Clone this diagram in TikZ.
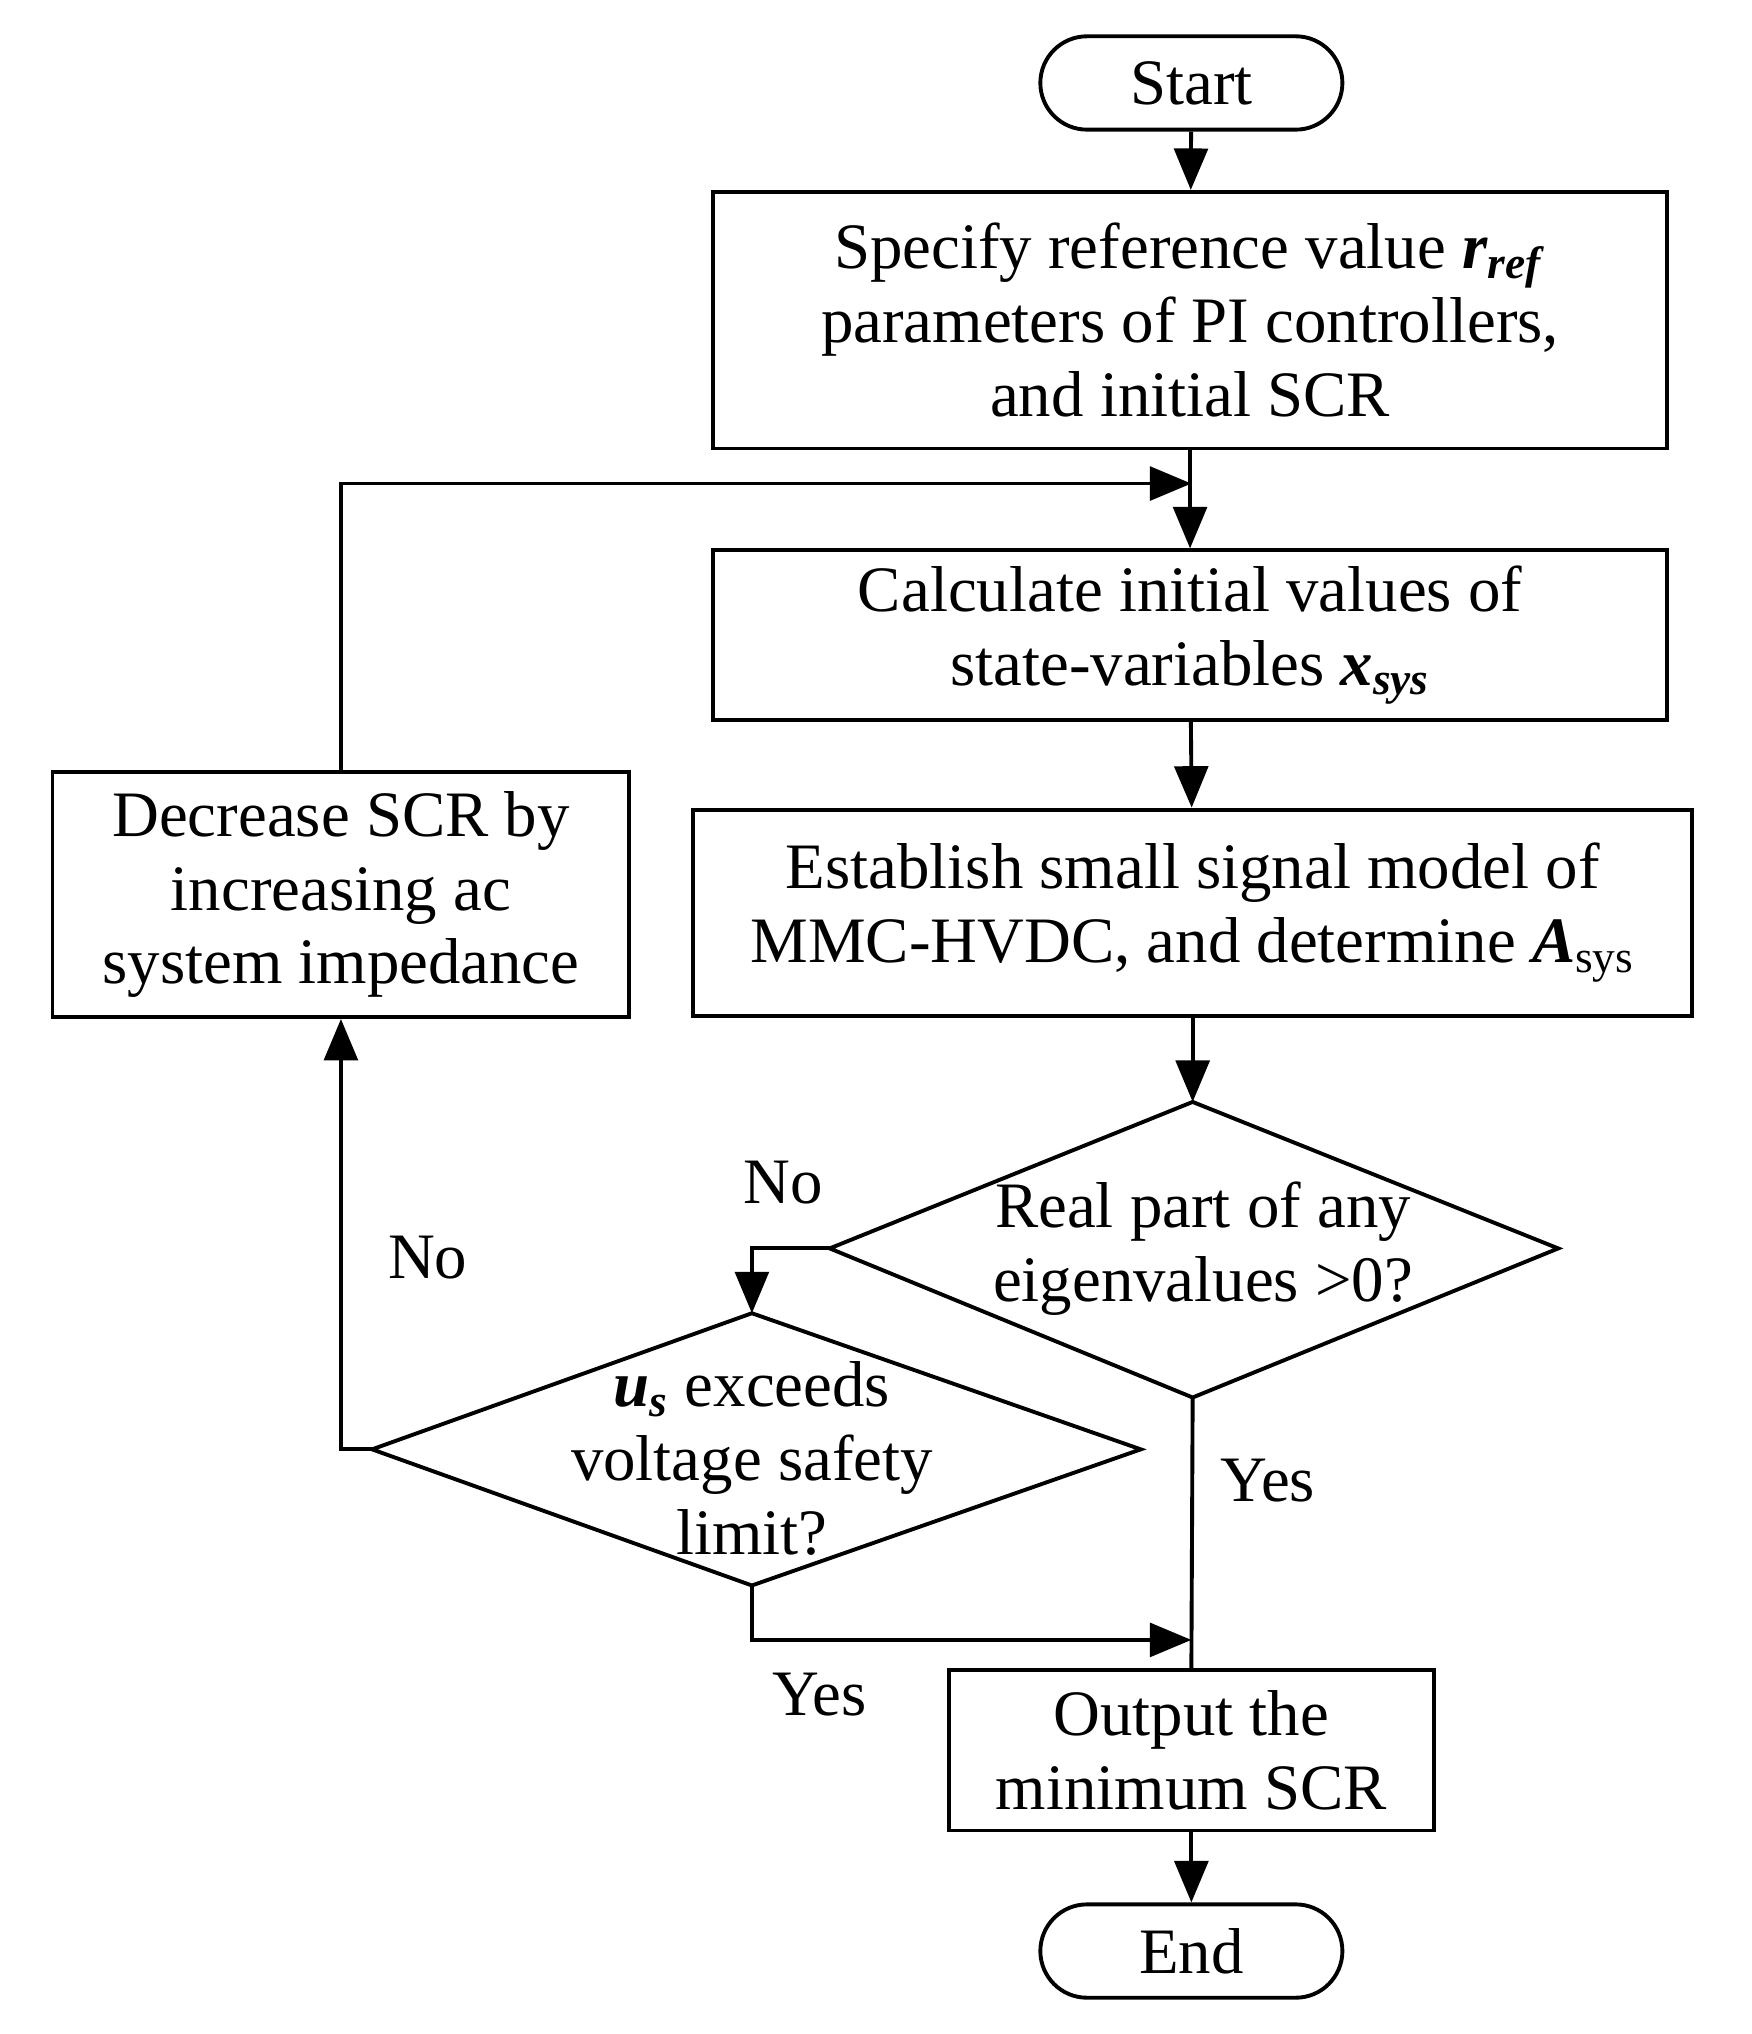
\documentclass[tikz,border=0pt]{standalone}
\usepackage{fontspec}
\setmainfont{Liberation Serif}
\usetikzlibrary{arrows.meta}
\newcommand{\bi}[1]{\textbf{\textit{#1}}}
\begin{document}
\begin{tikzpicture}[x=0.5pt,y=-0.5pt,
  every node/.style={font=\fontsize{25}{28.5}\selectfont,align=center,inner sep=0},
  box/.style={draw,line width=1.5pt},
  ln/.style={line width=1.5pt},
  ar/.style={ln,-{Triangle[length=16pt,width=13pt]}}]
\useasboundingbox (0,0) rectangle (1351,1569);
\node[box,rounded corners=18pt,minimum width=116.5pt,minimum height=36pt] (start) at (919,64) {Start};
\node[box,minimum width=368pt,minimum height=99pt] (b1) at (918,247) {Specify reference value \bi{r}\textsubscript{\bi{ref}}\\parameters of PI controllers,\\and initial SCR};
\node[box,minimum width=368pt,minimum height=65.5pt] (b2) at (918,490) {Calculate initial values of\\state-variables \bi{x}\textsubscript{\bi{sys}}};
\node[box,minimum width=385.5pt,minimum height=79.5pt] (b3) at (920,704) {Establish small signal model of\\MMC-HVDC, and determine \bi{A}\textsubscript{sys}};
\node[box,minimum width=222.5pt,minimum height=94.5pt] (dec) at (263,690) {Decrease SCR by\\increasing ac\\system impedance};
\node[box,minimum width=187pt,minimum height=62pt] (out) at (919,1350) {Output the\\minimum SCR};
\node[box,rounded corners=18pt,minimum width=116.5pt,minimum height=36pt] (end) at (919,1505) {End};
% diamonds
\coordinate (d1t) at (920,850); \coordinate (d1b) at (920,1078);
\coordinate (d1l) at (640,963); \coordinate (d1r) at (1202,963);
\draw[ln,line join=miter] (d1t)--(d1r)--(d1b)--(d1l)--cycle;
\node (d1) at (928,963) {Real part of any\\eigenvalues >0?};
\coordinate (d2t) at (580,1013); \coordinate (d2b) at (580,1223);
\coordinate (d2l) at (287,1118); \coordinate (d2r) at (880,1118);
\draw[ln,line join=miter] (d2t)--(d2r)--(d2b)--(d2l)--cycle;
\node (d2) at (580,1125) {\bi{u}\textsubscript{\bi{s}} exceeds\\voltage safety\\limit?};
% connectors
\coordinate (j1) at (919,373);
\coordinate (j2) at (919,1265);
\draw[ar] (start) -- (b1);
\draw[ar] (b1) -- (b2);
\draw[ar] (b2) -- (b3);
\draw[ar] (b3) -- (d1t);
\draw[ar] (dec.north) |- (j1);
\draw[ar] (d1l) -| (d2t);
\draw[ln] (d1b) -- (out.north);
\draw[ar] (d2b) |- (j2);
\draw[ar] (d2l) -| (dec.south);
\draw[ar] (out) -- (end);
\node (no1) at (604,912) {No};
\node (no2) at (330,970) {No};
\node (yes1) at (978,1142) {Yes};
\node (yes2) at (632,1307) {Yes};
\end{tikzpicture}
\end{document}
